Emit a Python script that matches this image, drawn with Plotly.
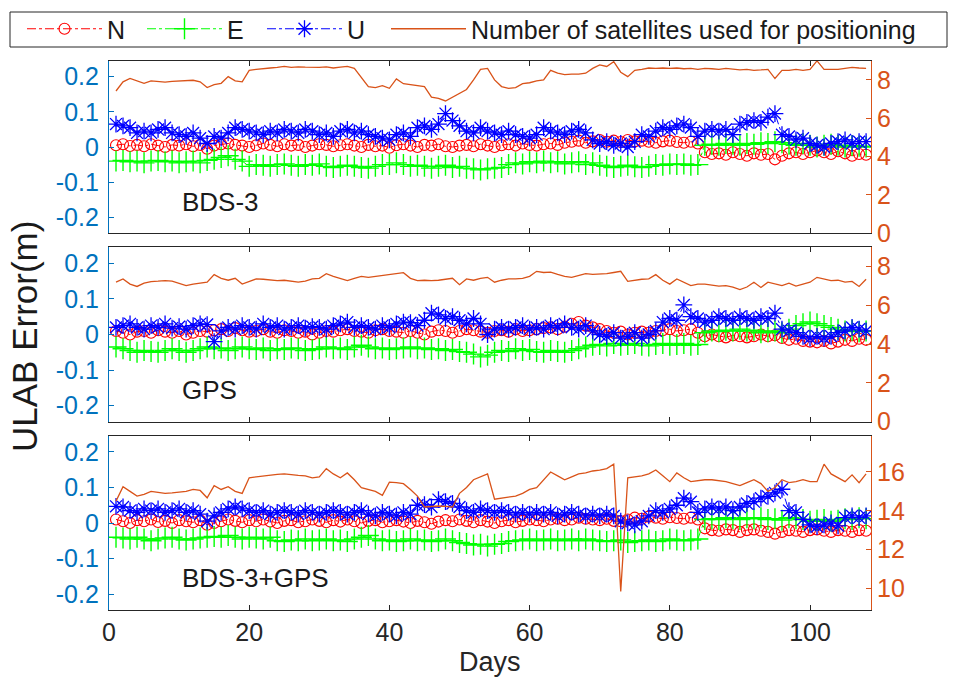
import plotly.graph_objects as go

days = list(range(1, 109))

# ---------------- BDS-3 ----------------
sat_bds = [7.42, 7.9, 8.08, 7.95, 7.82, 7.95, 7.9, 7.88, 7.92, 7.95,
           7.97, 7.98, 7.9, 7.6, 7.75, 7.82, 8.17, 7.95, 7.9, 8.5,
           8.55, 8.6, 8.62, 8.65, 8.7, 8.65, 8.68, 8.66, 8.64, 8.65,
           8.68, 8.62, 8.66, 8.7, 8.6, 8.1, 7.65, 7.6, 7.7, 7.56,
           8.05, 7.8, 7.75, 7.7, 7.65, 7.1, 7.04, 6.9, 7.1, 7.3,
           7.5, 8.0, 8.55, 8.6, 8.0, 7.65, 7.56, 7.6, 7.8, 7.85,
           7.95, 8.0, 8.5, 8.35, 8.27, 8.3, 8.3, 8.35, 8.6, 8.78,
           8.7, 8.95, 8.4, 8.17, 8.5, 8.55, 8.62, 8.6, 8.62, 8.6,
           8.62, 8.58, 8.6, 8.55, 8.6, 8.58, 8.55, 8.6, 8.55, 8.52,
           8.55, 8.5, 8.52, 8.55, 8.07, 8.5, 8.5, 8.55, 8.5, 8.55,
           8.99, 8.55, 8.55, 8.55, 8.6, 8.65, 8.62, 8.6]
n_bds = [0.005, 0.008, 0.003, 0.006, 0.002, 0.008, 0.004, 0.0, 0.006, 0.004,
         0.008, 0.002, 0.006, -0.005, 0.004, 0.008, 0.01, 0.006, 0.004, 0.0,
         0.005, 0.01, 0.006, 0.002, 0.008, 0.004, 0.006, 0.0, 0.004, 0.008,
         0.006, 0.002, 0.005, 0.008, 0.004, 0.0, 0.006, 0.002, 0.004, -0.002,
         0.005, 0.008, 0.004, 0.0, 0.006, 0.004, 0.008, 0.002, 0.0, 0.004,
         0.006, 0.002, 0.008, 0.004, 0.0, 0.005, 0.008, 0.004, 0.01, 0.006,
         0.004, 0.008, 0.01, 0.006, 0.012, 0.015, 0.018, 0.012, 0.016, 0.02,
         0.015, 0.018, 0.014, 0.02, 0.016, 0.018, 0.015, 0.012, 0.016, 0.018,
         0.014, 0.012, 0.015, 0.01, -0.015, -0.02, -0.018, -0.022, -0.015, -0.02,
         -0.025, -0.018, -0.022, -0.02, -0.035, -0.025, -0.018, -0.015, -0.02, -0.015,
         -0.01, -0.015, -0.02, -0.012, -0.018, -0.025, -0.02, -0.022]
e_bds = [-0.04, -0.038, -0.042, -0.04, -0.045, -0.04, -0.038, -0.042, -0.04, -0.045,
         -0.042, -0.04, -0.045, -0.038, -0.035, -0.03, -0.025, -0.035, -0.04, -0.055,
         -0.05, -0.052, -0.055, -0.05, -0.048, -0.052, -0.055, -0.05, -0.052, -0.048,
         -0.055, -0.058, -0.055, -0.052, -0.055, -0.058, -0.06, -0.055, -0.05, -0.05,
         -0.045, -0.05, -0.055, -0.052, -0.055, -0.06, -0.055, -0.052, -0.058, -0.055,
         -0.06, -0.062, -0.065, -0.062, -0.06, -0.058, -0.05, -0.045, -0.048, -0.042,
         -0.045, -0.04, -0.045, -0.042, -0.048, -0.045, -0.042, -0.05, -0.045, -0.052,
         -0.055, -0.058, -0.055, -0.052, -0.056, -0.058, -0.055, -0.05, -0.052, -0.048,
         -0.05, -0.048, -0.052, -0.05, 0.005, 0.008, 0.005, 0.01, 0.008, 0.005,
         0.01, 0.008, 0.012, 0.01, 0.015, 0.012, 0.008, 0.005, 0.01, 0.005,
         0.0, 0.005, 0.008, 0.005, 0.0, 0.004, 0.002, 0.0]
u_bds = [0.065, 0.06, 0.055, 0.04, 0.045, 0.04, 0.05, 0.055, 0.04, 0.035,
         0.03, 0.04, 0.025, 0.01, 0.03, 0.025, 0.04, 0.055, 0.05, 0.045,
         0.04, 0.035, 0.045, 0.04, 0.05, 0.045, 0.04, 0.05, 0.045, 0.035,
         0.04, 0.03, 0.045, 0.05, 0.04, 0.045, 0.035, 0.03, 0.025, 0.02,
         0.035, 0.04, 0.03, 0.055, 0.06, 0.05, 0.065, 0.095, 0.075, 0.06,
         0.045, 0.04, 0.055, 0.045, 0.04, 0.035, 0.045, 0.035, 0.03, 0.025,
         0.035, 0.055, 0.045, 0.04, 0.035, 0.045, 0.05, 0.04, 0.02, 0.01,
         0.015, 0.005, 0.01, 0.0, 0.015, 0.035, 0.03, 0.045, 0.055, 0.05,
         0.06, 0.065, 0.055, 0.03, 0.045, 0.05, 0.045, 0.05, 0.035, 0.065,
         0.07, 0.075, 0.07, 0.085, 0.095, 0.035, 0.03, 0.02, 0.025, 0.01,
         0.005, 0.0, 0.01, 0.015, 0.02, 0.01, 0.015, 0.015]

# ---------------- GPS ----------------
sat_gps = [7.2, 7.37, 7.1, 6.98, 7.15, 7.23, 7.25, 7.28, 7.25, 7.15,
           7.02, 7.1, 7.15, 7.2, 7.59, 7.4, 7.3, 7.4, 7.1, 7.25,
           7.37, 7.35, 7.3, 7.28, 7.3, 7.25, 7.2, 7.25, 7.37, 7.4,
           7.64, 7.5, 7.4, 7.28, 7.4, 7.5, 7.45, 7.5, 7.54, 7.6,
           7.65, 7.69, 7.4, 7.28, 7.3, 7.28, 7.3, 7.37, 7.4, 7.07,
           7.37, 7.3, 7.4, 7.45, 7.2, 7.3, 7.37, 7.37, 7.4, 7.5,
           7.76, 7.7, 7.72, 7.6, 7.5, 7.45, 7.55, 7.64, 7.6, 7.62,
           7.64, 7.7, 7.76, 7.24, 7.3, 7.35, 7.37, 7.59, 7.3, 7.1,
           7.37, 7.2, 7.02, 7.1, 7.1, 7.05, 7.0, 7.02, 6.95, 6.82,
           6.95, 7.2, 6.93, 7.2, 7.1, 7.02, 7.15, 7.0, 7.1, 7.2,
           7.45, 7.35, 7.28, 7.3, 7.2, 7.24, 6.98, 7.35]
n_gps = [0.01, 0.005, 0.0, 0.008, 0.01, 0.005, 0.012, 0.008, 0.005, 0.01,
         0.0, 0.005, 0.01, 0.008, 0.012, 0.015, 0.01, 0.018, 0.012, 0.008,
         0.01, 0.015, 0.008, 0.005, 0.012, 0.01, 0.005, 0.008, 0.0, 0.005,
         0.01, 0.008, 0.012, 0.015, 0.01, 0.008, 0.005, 0.012, 0.015, 0.01,
         0.008, 0.005, 0.01, 0.005, 0.0, 0.008, 0.012, 0.01, 0.005, 0.01,
         0.015, 0.012, 0.008, 0.005, 0.01, 0.012, 0.008, 0.015, 0.01, 0.012,
         0.015, 0.018, 0.02, 0.015, 0.022, 0.03, 0.035, 0.025, 0.02, 0.015,
         0.01, 0.005, 0.008, 0.0, 0.005, 0.008, 0.005, 0.01, 0.012, 0.015,
         0.01, 0.012, 0.015, 0.005, -0.005, 0.0, -0.005, -0.008, -0.002, -0.005,
         -0.008, -0.005, 0.0, -0.005, -0.002, -0.01, -0.015, -0.012, -0.018, -0.02,
         -0.022, -0.018, -0.025, -0.02, -0.015, -0.018, -0.012, -0.015]
e_gps = [-0.035, -0.04, -0.045, -0.05, -0.045, -0.048, -0.05, -0.045, -0.04, -0.045,
         -0.05, -0.045, -0.04, -0.035, -0.04, -0.038, -0.045, -0.04, -0.035, -0.04,
         -0.042, -0.038, -0.045, -0.04, -0.042, -0.038, -0.04, -0.045, -0.042, -0.04,
         -0.035, -0.04, -0.038, -0.042, -0.035, -0.03, -0.035, -0.04, -0.038, -0.042,
         -0.04, -0.038, -0.035, -0.04, -0.038, -0.042, -0.04, -0.045, -0.042, -0.048,
         -0.05, -0.055, -0.063, -0.058, -0.05, -0.045, -0.048, -0.04, -0.045, -0.042,
         -0.048, -0.05, -0.045, -0.048, -0.05, -0.045, -0.04, -0.035, -0.03, -0.028,
         -0.032, -0.025, -0.03, -0.028, -0.025, -0.03, -0.032, -0.028, -0.025, -0.03,
         -0.028, -0.025, -0.03, -0.028, 0.005, 0.01, 0.008, 0.012, 0.01, 0.015,
         0.01, 0.012, 0.005, 0.008, 0.01, 0.005, 0.015, 0.025, 0.03, 0.035,
         0.03, 0.025, 0.02, 0.015, 0.01, 0.012, 0.008, 0.01]
u_gps = [0.02, 0.025, 0.03, 0.02, 0.015, 0.025, 0.02, 0.03, 0.018, 0.022,
         0.015, 0.025, 0.03, 0.028, -0.02, 0.01, 0.02, 0.015, 0.025, 0.02,
         0.015, 0.03, 0.02, 0.025, 0.015, 0.02, 0.025, 0.018, 0.022, 0.02,
         0.015, 0.025, 0.03, 0.035, 0.02, 0.025, 0.02, 0.015, 0.025, 0.02,
         0.03, 0.035, 0.033, 0.025, 0.04, 0.06, 0.055, 0.045, 0.05, 0.04,
         0.03, 0.045, 0.03, 0.0, 0.015, 0.02, 0.015, 0.02, 0.025, 0.015,
         0.02, 0.015, 0.025, 0.02, 0.03, 0.02, 0.015, 0.025, 0.01, 0.0,
         -0.005, 0.005, -0.01, -0.005, 0.005, -0.01, 0.0, 0.01, 0.035, 0.045,
         0.04, 0.083, 0.05, 0.045, 0.035, 0.04, 0.05, 0.045, 0.04, 0.05,
         0.045, 0.04, 0.05, 0.045, 0.06, 0.015, 0.01, 0.005, -0.005, -0.01,
         -0.005, -0.01, -0.005, 0.005, 0.01, 0.02, 0.015, 0.01]

# ---------------- BDS-3+GPS ----------------
sat_both = [14.5, 15.24, 15.0, 14.76, 14.85, 15.0, 14.95, 14.9, 14.92, 14.95,
            15.0, 15.1, 15.05, 14.67, 15.3, 15.1, 15.24, 15.0, 14.9, 15.7,
            15.75, 15.8, 15.85, 15.88, 15.9, 15.85, 15.82, 15.8, 15.7, 15.75,
            16.17, 15.9, 15.7, 15.95, 15.6, 15.19, 15.1, 15.0, 14.8, 15.48,
            15.45, 15.4, 15.1, 14.76, 14.2, 14.22, 14.25, 14.23, 14.2, 14.9,
            15.2, 15.6, 15.75, 15.9, 14.6, 14.65, 14.7, 14.76, 14.9, 15.1,
            15.19, 15.6, 16.0, 15.8, 15.6, 15.75, 15.9, 15.95, 16.05, 16.1,
            16.17, 16.4, 9.86, 15.7, 15.75, 15.8, 15.9, 16.1, 15.8, 15.5,
            15.95, 15.7, 15.5, 15.55, 15.6, 15.6, 15.55, 15.5, 15.4, 15.3,
            15.45, 15.6, 15.4, 15.0, 15.2, 15.6, 15.45, 15.5, 15.6, 15.5,
            15.5, 16.4, 15.9, 15.7, 15.5, 15.85, 15.45, 15.9]
n_both = [0.01, 0.005, 0.0, 0.008, 0.005, 0.01, 0.003, 0.006, 0.0, 0.008,
          0.005, 0.002, 0.008, -0.005, 0.0, 0.005, 0.01, 0.006, 0.002, 0.008,
          0.005, 0.01, 0.004, 0.0, 0.006, 0.008, 0.002, 0.005, 0.01, 0.006,
          0.002, 0.008, 0.004, 0.01, 0.005, 0.0, 0.006, 0.008, 0.002, 0.005,
          0.008, 0.004, 0.0, 0.006, 0.002, -0.002, 0.004, 0.008, 0.005, 0.01,
          0.006, 0.002, 0.008, 0.004, 0.0, 0.005, 0.008, 0.002, 0.006, 0.01,
          0.008, 0.005, 0.01, 0.012, 0.008, 0.01, 0.015, 0.012, 0.01, 0.008,
          0.012, 0.006, 0.005, 0.01, 0.015, 0.012, 0.018, 0.015, 0.012, 0.016,
          0.014, 0.012, 0.015, 0.01, -0.015, -0.02, -0.022, -0.018, -0.02, -0.025,
          -0.02, -0.018, -0.022, -0.025, -0.03, -0.025, -0.02, -0.022, -0.025, -0.02,
          -0.018, -0.022, -0.025, -0.02, -0.022, -0.025, -0.02, -0.022]
e_both = [-0.04, -0.042, -0.045, -0.04, -0.045, -0.05, -0.045, -0.042, -0.04, -0.045,
          -0.048, -0.045, -0.042, -0.04, -0.038, -0.04, -0.035, -0.04, -0.045, -0.04,
          -0.042, -0.045, -0.04, -0.05, -0.052, -0.048, -0.05, -0.045, -0.05, -0.048,
          -0.045, -0.05, -0.048, -0.052, -0.045, -0.04, -0.035, -0.045, -0.05, -0.048,
          -0.052, -0.05, -0.045, -0.05, -0.048, -0.052, -0.05, -0.045, -0.05, -0.055,
          -0.058, -0.062, -0.06, -0.065, -0.06, -0.058, -0.052, -0.05, -0.048, -0.045,
          -0.05, -0.048, -0.045, -0.05, -0.048, -0.045, -0.05, -0.045, -0.048, -0.05,
          -0.052, -0.05, -0.048, -0.055, -0.052, -0.05, -0.048, -0.052, -0.05, -0.045,
          -0.048, -0.05, -0.048, -0.045, 0.01, 0.012, 0.01, 0.015, 0.012, 0.01,
          0.015, 0.012, 0.015, 0.01, 0.012, 0.008, 0.015, 0.012, 0.01, 0.005,
          0.008, 0.01, 0.005, 0.008, 0.012, 0.01, 0.015, 0.012]
u_both = [0.047, 0.045, 0.035, 0.03, 0.04, 0.035, 0.04, 0.03, 0.035, 0.04,
          0.03, 0.035, 0.025, 0.005, 0.02, 0.03, 0.04, 0.045, 0.04, 0.035,
          0.03, 0.035, 0.025, 0.03, 0.035, 0.03, 0.025, 0.035, 0.03, 0.025,
          0.03, 0.035, 0.03, 0.025, 0.03, 0.035, 0.025, 0.02, 0.03, 0.025,
          0.02, 0.03, 0.025, 0.05, 0.052, 0.045, 0.066, 0.06, 0.055, 0.045,
          0.035, 0.03, 0.04, 0.035, 0.03, 0.035, 0.03, 0.025, 0.03, 0.025,
          0.03, 0.025, 0.03, 0.02, 0.025, 0.03, 0.025, 0.02, 0.025, 0.02,
          0.025, 0.02, 0.005, 0.0, -0.005, 0.005, 0.02, 0.035, 0.03, 0.04,
          0.05, 0.07, 0.06, 0.03, 0.04, 0.045, 0.04, 0.045, 0.035, 0.045,
          0.055, 0.06, 0.07, 0.075, 0.085, 0.095, 0.035, 0.03, 0.01, -0.005,
          -0.01, -0.005, 0.0, -0.008, 0.015, 0.02, 0.015, 0.02]

panel_names = ["BDS-3", "GPS", "BDS-3+GPS"]
left_ticks = [-0.2, -0.1, 0, 0.1, 0.2]
left_ticktext = ["-0.2", "-0.1", "0", "0.1", "0.2"]
x_ticks = [0, 20, 40, 60, 80, 100]

W, H = 955, 689
FONT = "Liberation Sans, Arial, sans-serif"
BLUE_AX = "#0072BD"
ORANGE = "#D95319"
DARK = "#262626"

panels = [
    (n_bds, e_bds, u_bds, sat_bds, [0, 9], [0, 2, 4, 6, 8]),
    (n_gps, e_gps, u_gps, sat_gps, [0, 9], [0, 2, 4, 6, 8]),
    (n_both, e_both, u_both, sat_both, [8.9, 17.85], [10, 12, 14, 16]),
]
# plot area pixel boxes (top, bottom)
boxes = [(60.7, 233.3), (247.3, 421.7), (436.0, 610.0)]
x0px, x1px = 109.0, 871.0

fig = go.Figure()

for i, (n, e, u, s, rrange, rticks) in enumerate(panels):
    xa = "x" if i == 0 else f"x{i+1}"
    yl = "y" if i == 0 else f"y{2*i+1}"
    yr = f"y{2*i+2}"
    show = (i == 0)
    fig.add_trace(go.Scatter(
        x=days, y=n, xaxis=xa, yaxis=yl, name="N", mode="lines+markers",
        legend="legend", showlegend=show,
        line=dict(color="#FF0000", width=1, dash="dashdot"),
        marker=dict(symbol="circle-open", size=11, color="#FF0000",
                    line=dict(width=1.1, color="#FF0000"))))
    fig.add_trace(go.Scatter(
        x=days, y=e, xaxis=xa, yaxis=yl, name="E", mode="lines+markers",
        legend="legend", showlegend=show,
        line=dict(color="#00FF00", width=1, dash="dashdot"),
        marker=dict(symbol="cross-thin-open", size=15, color="#00FF00",
                    line=dict(width=1.4, color="#00FF00"))))
    fig.add_trace(go.Scatter(
        x=days, y=u, xaxis=xa, yaxis=yl, name="U", mode="lines+markers",
        legend="legend", showlegend=show,
        line=dict(color="#0000FF", width=1, dash="dashdot"),
        marker=dict(symbol="asterisk-open", size=14, color="#0000FF",
                    line=dict(width=1.3, color="#0000FF"))))
    fig.add_trace(go.Scatter(
        x=days, y=s, xaxis=xa, yaxis=yr,
        name="Number of satellites used for positioning", mode="lines",
        legend="legend2", showlegend=show,
        line=dict(color=ORANGE, width=1.3)))

    top, bot = boxes[i]
    ydom = [1 - bot / H, 1 - top / H]
    xdom = [x0px / W, x1px / W]
    xkey = "xaxis" if i == 0 else f"xaxis{i+1}"
    ylkey = "yaxis" if i == 0 else f"yaxis{2*i+1}"
    yrkey = f"yaxis{2*i+2}"
    fig.layout[xkey] = dict(
        domain=xdom, anchor=yl, range=[0, 108.7],
        tickvals=x_ticks, showticklabels=(i == 2),
        ticks="inside", ticklen=5, tickcolor=DARK, tickwidth=1,
        showline=True, linecolor=DARK, linewidth=1, mirror="ticks",
        showgrid=False, zeroline=False, automargin=False,
        tickfont=dict(family=FONT, size=25, color=DARK))
    fig.layout[ylkey] = dict(
        domain=ydom, anchor=xa, range=[-0.245, 0.245],
        tickvals=left_ticks, ticktext=left_ticktext,
        ticks="inside", ticklen=5, tickcolor=BLUE_AX, tickwidth=1,
        showline=True, linecolor=BLUE_AX, linewidth=1.2,
        showgrid=False, zeroline=False, automargin=False,
        ticklabelstandoff=4,
        tickfont=dict(family=FONT, size=25, color=BLUE_AX))
    fig.layout[yrkey] = dict(
        domain=ydom, anchor=xa, overlaying=yl, side="right",
        range=rrange, tickvals=rticks,
        ticks="inside", ticklen=5, tickcolor=ORANGE, tickwidth=1,
        showline=True, linecolor=ORANGE, linewidth=1.2,
        showgrid=False, zeroline=False, automargin=False,
        tickfont=dict(family=FONT, size=25, color=ORANGE))

annotations = []
for i, name in enumerate(panel_names):
    xa = "x" if i == 0 else f"x{i+1}"
    yl = "y" if i == 0 else f"y{2*i+1}"
    annotations.append(dict(
        x=10.1, y=-0.155, xref=xa, yref=yl, text=name, showarrow=False,
        xanchor="left", yanchor="middle",
        font=dict(family=FONT, size=26, color="#1a1a1a")))
annotations.append(dict(
    x=25 / W, y=1 - 337 / H, xref="paper", yref="paper", text="ULAB Error(m)",
    showarrow=False, textangle=-90, xanchor="center", yanchor="middle",
    font=dict(family=FONT, size=35, color="#1a1a1a")))
annotations.append(dict(
    x=490 / W, y=1 - 662 / H, xref="paper", yref="paper", text="Days",
    showarrow=False, xanchor="center", yanchor="middle",
    font=dict(family=FONT, size=27, color=DARK)))

fig.update_layout(
    width=W, height=H,
    margin=dict(l=0, r=0, t=0, b=0, autoexpand=False),
    paper_bgcolor="white", plot_bgcolor="white",
    font=dict(family=FONT, size=25, color=DARK),
    annotations=annotations,
    shapes=[dict(type="rect", xref="paper", yref="paper",
                 x0=10 / W, x1=947 / W, y0=1 - 47 / H, y1=1 - 12 / H,
                 line=dict(color=DARK, width=1), fillcolor="rgba(0,0,0,0)")],
    legend=dict(orientation="h", x=22 / W, y=1 - 6 / H, xanchor="left",
                yanchor="top", xref="container", yref="container",
                bgcolor="rgba(0,0,0,0)", borderwidth=0,
                itemwidth=75, entrywidth=30, entrywidthmode="pixels",
                font=dict(family=FONT, size=25, color="#1a1a1a")),
    legend2=dict(orientation="h", x=386 / W, y=1 - 6 / H, xanchor="left",
                 yanchor="top", xref="container", yref="container",
                 bgcolor="rgba(0,0,0,0)", borderwidth=0,
                 itemwidth=75,
                 font=dict(family=FONT, size=25, color="#1a1a1a")),
)

fig.write_html(
    "out.html",
    config={"displayModeBar": False},
    post_script="document.body.style.margin='0';document.body.style.padding='0';",
)
